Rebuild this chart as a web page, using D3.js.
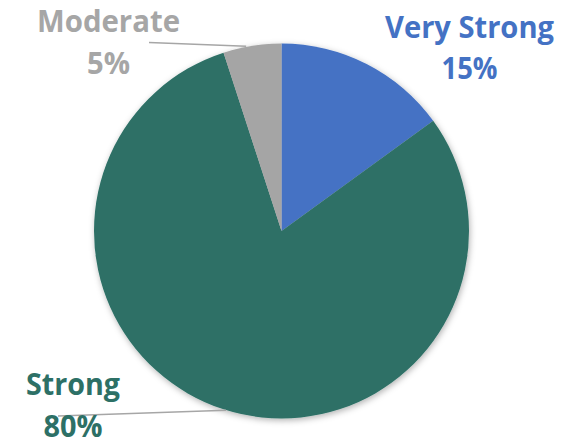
<!DOCTYPE html>
<html>
<head>
<meta charset="utf-8">
<script src="https://cdn.jsdelivr.net/npm/d3@7"></script>
<style>
  html, body { margin: 0; padding: 0; background: #fff; }
  svg { display: block; }
  text { font-family: "Open Sans", "Liberation Sans", sans-serif; font-weight: 700; }
</style>
</head>
<body>
<svg id="chart" width="582" height="441"></svg>
<script>
// Share of responses by strength
const categories = ["Very Strong", "Strong", "Moderate"];
const shares = [15, 80, 5];
const colors = ["#4472C4", "#2D7066", "#A5A5A5"];
const labelColors = ["#4472C4", "#2D7066", "#A6A6A6"];

const width = 582, height = 441;
const cx = 281.5, cy = 231, radius = 187.5;

const svg = d3.select("#chart");

// soft drop shadow under the pie
const defs = svg.append("defs");
const f = defs.append("filter").attr("id", "shadow")
  .attr("x", "-10%").attr("y", "-10%").attr("width", "120%").attr("height", "120%");
f.append("feDropShadow").attr("dx", 1).attr("dy", 2).attr("stdDeviation", 3)
  .attr("flood-color", "#000").attr("flood-opacity", 0.3);

const pie = d3.pie().sort(null).value(d => d)(shares);
const arc = d3.arc().innerRadius(0).outerRadius(radius);

const g = svg.append("g").attr("transform", `translate(${cx},${cy})`);
const slices = g.append("g").attr("filter", "url(#shadow)");
slices.selectAll("path")
  .data(pie)
  .join("path")
  .attr("d", arc)
  .attr("fill", (d, i) => colors[i]);

// leader lines from outside labels to their slices
const leaderColor = "#A6A6A6";
function edgePoint(angle) {
  return [cx + radius * Math.sin(angle), cy - radius * Math.cos(angle)];
}
const modMid = (pie[2].startAngle + pie[2].endAngle) / 2;
const modEnd = edgePoint(modMid);
svg.append("line")
  .attr("x1", 149).attr("y1", 42.5)
  .attr("x2", modEnd[0] - 6).attr("y2", modEnd[1] + 0.5)
  .attr("stroke", leaderColor).attr("stroke-width", 1.5);

const strongAnchor = edgePoint(Math.PI + 0.3);
svg.append("line")
  .attr("x1", 58).attr("y1", 416)
  .attr("x2", strongAnchor[0]).attr("y2", strongAnchor[1])
  .attr("stroke", leaderColor).attr("stroke-width", 1.5);

// labels: name + percentage
const labelSpecs = [
  { i: 0, x: 469.5, y1: 38, y2: 79, w1: 169, w2: 56 },
  { i: 1, x: 73, y1: 395, y2: 437, w1: 94, w2: 59 },
  { i: 2, x: 108.5, y1: 32, y2: 74, w1: 143, w2: 43 }
];
const fontSize = 30;
labelSpecs.forEach(s => {
  const lg = svg.append("g").attr("fill", labelColors[s.i]).attr("text-anchor", "middle")
    .style("font-size", fontSize + "px");
  lg.append("text").attr("x", s.x).attr("y", s.y1)
    .attr("textLength", s.w1).attr("lengthAdjust", "spacingAndGlyphs")
    .text(categories[s.i]);
  lg.append("text").attr("x", s.x).attr("y", s.y2)
    .attr("textLength", s.w2).attr("lengthAdjust", "spacingAndGlyphs")
    .text(shares[s.i] + "%");
});
</script>
</body>
</html>
